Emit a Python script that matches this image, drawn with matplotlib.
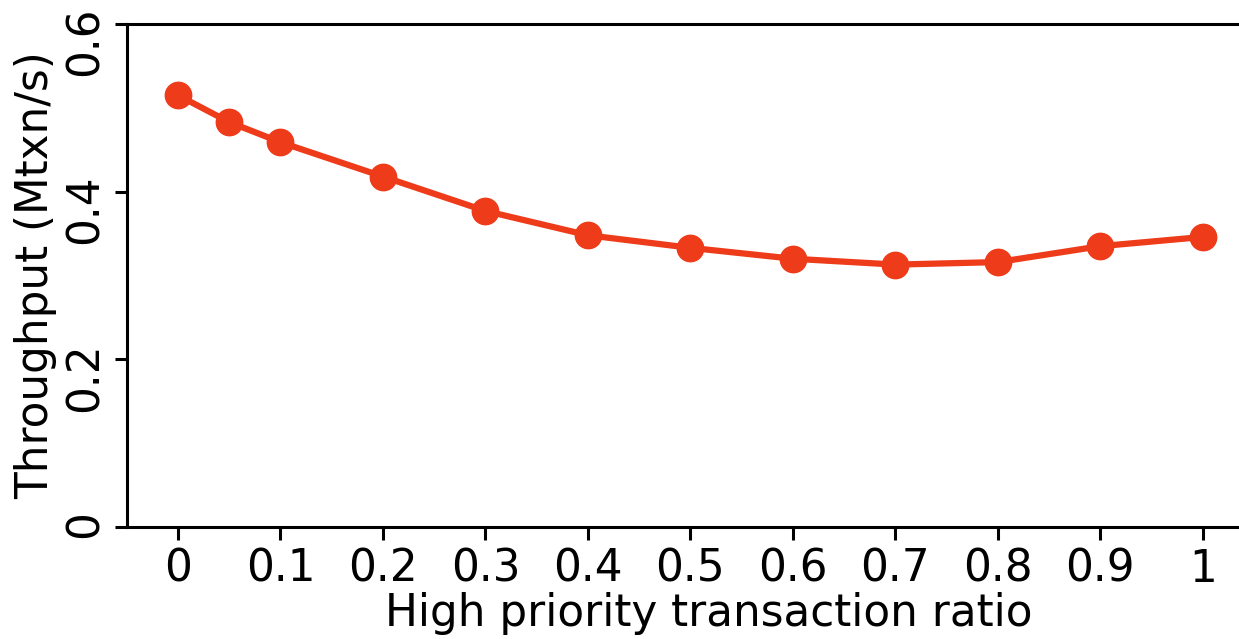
import matplotlib
matplotlib.use("Agg")
import matplotlib.pyplot as plt

ratios = [0, 0.05, 0.1, 0.2, 0.3, 0.4, 0.5, 0.6, 0.7, 0.8, 0.9, 1.0]
throughput = [0.515, 0.483, 0.459, 0.418, 0.377, 0.348, 0.333, 0.320, 0.313, 0.316, 0.335, 0.346]
xticks = [0, 0.1, 0.2, 0.3, 0.4, 0.5, 0.6, 0.7, 0.8, 0.9, 1.0]
xtick_labels = ["0", "0.1", "0.2", "0.3", "0.4", "0.5", "0.6", "0.7", "0.8", "0.9", "1"]
yticks = [0, 0.2, 0.4, 0.6]
ytick_labels = ["0", "0.2", "0.4", "0.6"]

fig = plt.figure(figsize=(12.39, 6.39), dpi=100)
W, H = 1239, 639
left, right, top, bottom = 127, 1290, 24, 527
ax = fig.add_axes([left / W, 1 - bottom / H, (right - left) / W, (bottom - top) / H])

ax.plot(ratios, throughput, color="#EE3B1A", linewidth=4.5, marker="o",
        markersize=19, solid_capstyle="round")

ax.set_xlim(-0.0497, 1.085)
ax.set_ylim(0, 0.6)
ax.set_xticks(xticks)
ax.set_xticklabels(xtick_labels)
ax.set_yticks(yticks)
ax.set_yticklabels(ytick_labels, rotation=90)

ax.spines["right"].set_visible(False)
for s in ["left", "top", "bottom"]:
    ax.spines[s].set_linewidth(2.2)
ax.tick_params(axis="both", labelsize=31.5, width=2.2, length=9, pad=6)

ax.set_xlabel("High priority transaction ratio", fontsize=31.5, labelpad=1)
ax.set_ylabel("Throughput (Mtxn/s)", fontsize=31.5, labelpad=4)

fig.savefig("out.png", dpi=100)
